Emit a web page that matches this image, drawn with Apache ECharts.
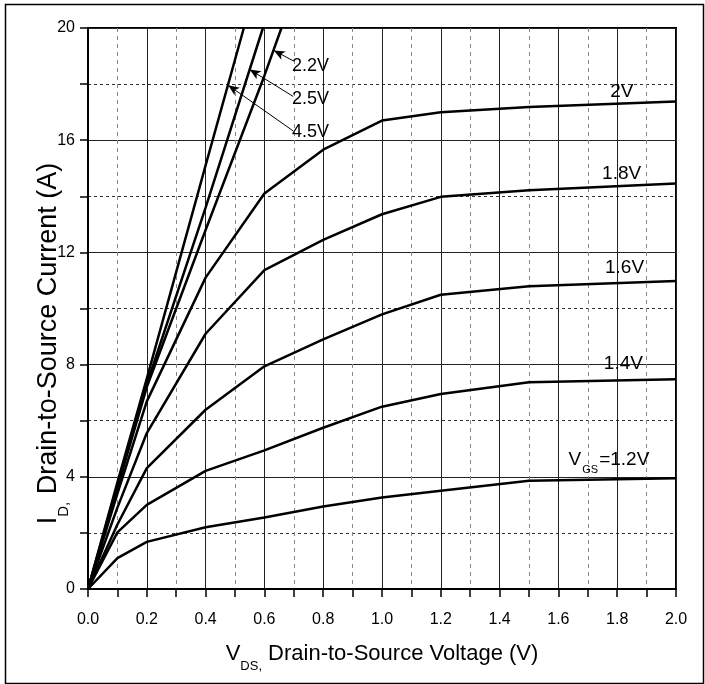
<!DOCTYPE html>
<html>
<head>
<meta charset="utf-8">
<style>
  html, body { margin: 0; padding: 0; background: #fff; }
  #main { width: 705px; height: 684px; }
</style>
<script src="https://cdn.jsdelivr.net/npm/echarts@6/dist/echarts.min.js"></script>
</head>
<body>
<div id="main"></div>
<script>
// drain current vs drain-source voltage, one array per gate voltage
var vdsSteps = [0, 0.1, 0.2, 0.4, 0.6, 0.8, 1.0, 1.2, 1.5, 2.0];
var id12 = [0, 1.1, 1.68, 2.2, 2.55, 2.94, 3.26, 3.5, 3.86, 3.95];
var id14 = [0, 2.02, 3.0, 4.21, 4.94, 5.75, 6.5, 6.95, 7.37, 7.48];
var id16 = [0, 2.3, 4.31, 6.39, 7.94, 8.9, 9.79, 10.49, 10.79, 10.98];
var id18 = [0, 2.9, 5.56, 9.1, 11.37, 12.45, 13.36, 13.98, 14.22, 14.46];
var id20 = [0, 3.4, 6.69, 11.1, 14.1, 15.66, 16.7, 17.0, 17.18, 17.38];

// steep curves leave the top of the plot, so they have their own x points
var vds22 = [0, 0.1, 0.2, 0.4, 0.6, 0.658];
var id22 = [0, 3.6, 7.2, 12.8, 18.3, 20];
var vds25 = [0, 0.1, 0.2, 0.4, 0.595];
var id25 = [0, 3.7, 7.3, 13.6, 20];
var vds45 = [0, 0.1, 0.2, 0.4, 0.53];
var id45 = [0, 3.8, 7.5, 15.1, 20];

var FONT = '"Liberation Sans", Arial, sans-serif';

function pairs(xs, ys) {
  return xs.map(function (x, i) { return [x, ys[i]]; });
}

// invisible point that only carries a text label
function tag(text, at, size, rich) {
  return {
    symbol: 'circle',
    symbolSize: 1,
    silent: true,
    itemStyle: { color: 'rgba(0,0,0,0)' },
    label: {
      show: true, position: 'inside', formatter: text,
      fontFamily: FONT, fontSize: size, color: '#000',
      rich: rich || {}
    },
    data: [{ coord: at }]
  };
}

// thin leader line with arrow head pointing at the curve
function pointer(from, to) {
  return {
    silent: true,
    symbol: ['none', 'arrow'],
    symbolSize: [7, 11],
    lineStyle: { color: '#000', width: 1, type: 'solid' },
    label: { show: false },
    animation: false,
    data: [[{ coord: from }, { coord: to }]]
  };
}

function curve(name, xs, ys) {
  return {
    name: name,
    type: 'line',
    data: pairs(xs, ys),
    showSymbol: false,
    symbol: 'none',
    lineStyle: { color: '#000', width: 2.5 },
    itemStyle: { color: '#000' },
    z: 5
  };
}

var s12 = curve('1.2V', vdsSteps, id12);
s12.markPoint = tag('{v|V}{s|GS}{v|=1.2V}', [1.772, 4.61], 19, {
  v: { fontFamily: FONT, fontSize: 19, color: '#000' },
  s: { fontFamily: FONT, fontSize: 11, color: '#000', verticalAlign: 'bottom', padding: [0, 1, -6, 1] }
});
var s14 = curve('1.4V', vdsSteps, id14);
s14.markPoint = tag('1.4V', [1.821, 8.04], 19);
var s16 = curve('1.6V', vdsSteps, id16);
s16.markPoint = tag('1.6V', [1.825, 11.45], 19);
var s18 = curve('1.8V', vdsSteps, id18);
s18.markPoint = tag('1.8V', [1.815, 14.79], 19);
var s20 = curve('2V', vdsSteps, id20);
s20.markPoint = tag('2V', [1.816, 17.73], 19);

var s22 = curve('2.2V', vds22, id22);
s22.markLine = pointer([0.698, 18.83], [0.632, 19.2]);
s22.markPoint = tag('2.2V', [0.757, 18.65], 18);
var s25 = curve('2.5V', vds25, id25);
s25.markLine = pointer([0.698, 17.56], [0.55, 18.52]);
s25.markPoint = tag('2.5V', [0.757, 17.46], 18);
var s45 = curve('4.5V', vds45, id45);
s45.markLine = pointer([0.698, 16.33], [0.477, 17.96]);
s45.markPoint = tag('4.5V', [0.757, 16.29], 18);

var chart = echarts.init(document.getElementById('main'));
chart.setOption({
  animation: false,
  backgroundColor: '#fff',
  grid: {
    left: 88, right: 29, top: 28, bottom: 95,
    show: true, borderColor: '#000', borderWidth: 2
  },
  graphic: [{
    type: 'rect', left: 3, top: 2,
    shape: { width: 698, height: 679 },
    style: { fill: 'none', stroke: '#000', lineWidth: 1.5 },
    silent: true
  }],
  xAxis: {
    type: 'value', min: 0, max: 2, interval: 0.2,
    name: '{m|V}{s|DS,}{m| Drain-to-Source Voltage (V)}',
    nameLocation: 'middle', nameGap: 54,
    nameTextStyle: {
      rich: {
        m: { fontFamily: FONT, fontSize: 22, color: '#000' },
        s: { fontFamily: FONT, fontSize: 13, color: '#000', verticalAlign: 'bottom', padding: [0, 0, -8, 0] }
      }
    },
    axisLine: { lineStyle: { color: '#000', width: 2 } },
    axisTick: { length: 8, lineStyle: { color: '#000', width: 1.5 } },
    minorTick: { show: true, splitNumber: 2, length: 8, lineStyle: { color: '#000', width: 1.5 } },
    axisLabel: {
      margin: 23, fontFamily: FONT, fontSize: 16, color: '#000',
      formatter: function (v) { return v.toFixed(1); }
    },
    splitLine: { show: true, lineStyle: { color: '#222', width: 1 } },
    minorSplitLine: { show: true, lineStyle: { color: '#888', width: 1, type: [4, 4] } }
  },
  yAxis: {
    type: 'value', min: 0, max: 20, interval: 4,
    name: '{m|I}{s|D,}{m| Drain-to-Source Current (A)}',
    nameLocation: 'middle', nameGap: 26, nameMoveOverlap: false,
    nameTextStyle: {
      padding: [0, 70, 0, 0],
      rich: {
        m: { fontFamily: FONT, fontSize: 27, color: '#000' },
        s: { fontFamily: FONT, fontSize: 15, color: '#000', verticalAlign: 'bottom', padding: [0, 0, -9, 0] }
      }
    },
    axisLine: { show: true, lineStyle: { color: '#000', width: 2 } },
    axisTick: { show: true, length: 8, lineStyle: { color: '#000', width: 1.5 } },
    minorTick: { show: true, splitNumber: 2, length: 8, lineStyle: { color: '#000', width: 1.5 } },
    axisLabel: { margin: 13, fontFamily: FONT, fontSize: 16, color: '#000' },
    splitLine: { show: true, lineStyle: { color: '#222', width: 1 } },
    minorSplitLine: { show: true, lineStyle: { color: '#333', width: 1, type: [3, 3] } }
  },
  series: [s12, s14, s16, s18, s20, s22, s25, s45]
});
</script>
</body>
</html>
